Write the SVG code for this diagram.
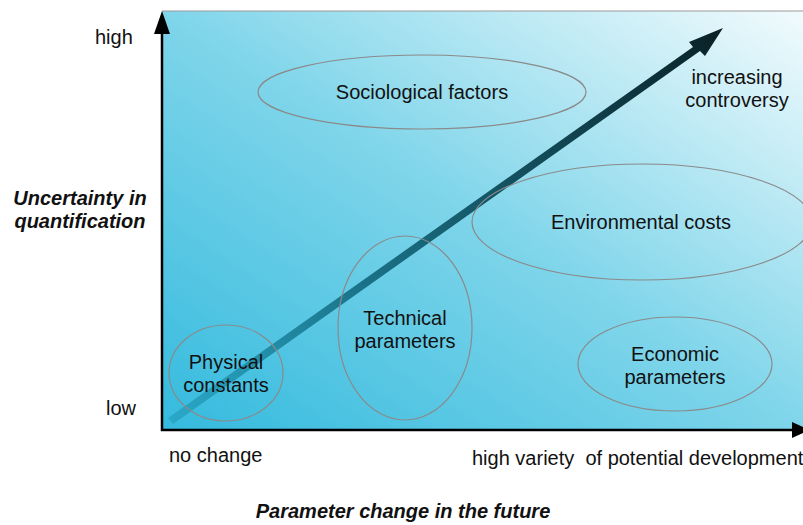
<svg xmlns="http://www.w3.org/2000/svg" width="803" height="525" viewBox="0 0 803 525">
<style>
text{font-family:"Liberation Sans",Arial,sans-serif;font-size:20px;fill:#111;white-space:pre}
.b{font-weight:bold;font-style:italic}
.e{fill:none;stroke:#8a8a8a;stroke-width:1.2}
.m{text-anchor:middle}
</style>
<defs>
<linearGradient id="bg" x1="0" y1="1" x2="1" y2="0">
<stop offset="0" stop-color="#34bade"/>
<stop offset="0.5" stop-color="#7fd5ea"/>
<stop offset="1" stop-color="#f2fbfd"/>
</linearGradient>
<linearGradient id="ar" gradientUnits="userSpaceOnUse" x1="170" y1="420" x2="722" y2="28">
<stop offset="0" stop-color="#2aa8c8"/>
<stop offset="0.35" stop-color="#1a7288"/>
<stop offset="1" stop-color="#0a2126"/>
</linearGradient>
</defs>
<rect x="162" y="11" width="641" height="419" fill="url(#bg)"/>
<line x1="162" y1="11" x2="803" y2="11" stroke="#999" stroke-width="1"/>
<g id="connectors">
<line x1="162" y1="431" x2="162" y2="30" stroke="#000" stroke-width="2.5"/>
<polygon points="162,11 154,34 170,34" fill="#000"/>
<line x1="161" y1="430" x2="795" y2="430" stroke="#000" stroke-width="2.5"/>
<polygon points="810,430 792,422 792,438" fill="#000"/>
<polygon id="trend" points="168,418 173,424 700,51 705,56 723,28 689,42 693,47" fill="url(#ar)"/>
</g>
<g id="sociological"><ellipse class="e" cx="422" cy="92" rx="164" ry="37"/><text class="m" x="422" y="99">Sociological factors</text></g>
<g id="environmental"><ellipse class="e" cx="642" cy="222" rx="170" ry="58"/><text class="m" x="641" y="229">Environmental costs</text></g>
<g id="technical"><ellipse class="e" cx="405" cy="328" rx="67" ry="92"/><text class="m" x="405" y="325">Technical</text><text class="m" x="405" y="348">parameters</text></g>
<g id="physical"><ellipse class="e" cx="226" cy="373" rx="57" ry="48"/><text class="m" x="226" y="369">Physical</text><text class="m" x="226" y="392">constants</text></g>
<g id="economic"><ellipse class="e" cx="675" cy="364" rx="97" ry="47"/><text class="m" x="675" y="361">Economic</text><text class="m" x="675" y="384">parameters</text></g>
<g id="labels">
<text class="m" x="737" y="84">increasing</text>
<text class="m" x="737" y="107">controversy</text>
<text x="95" y="44">high</text>
<text x="106" y="415">low</text>
<text class="b m" x="80" y="205">Uncertainty in</text>
<text class="b m" x="80" y="228">quantification</text>
<text x="169" y="462">no change</text>
<text x="472" y="465">high variety  of potential development</text>
<text class="b m" x="403" y="518">Parameter change in the future</text>
</g>
</svg>
